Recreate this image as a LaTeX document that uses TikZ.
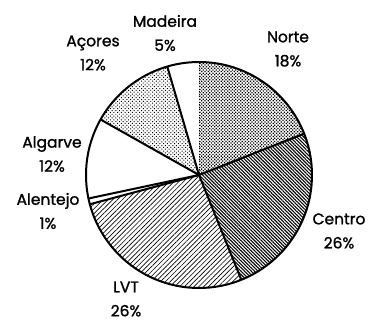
\documentclass[tikz,border=0pt]{standalone}
\usepackage{fontspec}
\setmainfont{Poppins}[FakeBold=1.3]
\usetikzlibrary{patterns.meta}
\begin{document}
\begin{tikzpicture}[x=1pt,y=1pt,
  lbl/.style={align=center,font=\fontsize{15.5}{24}\selectfont},
  edge/.style={line width=2pt,line join=round},
  thinedge/.style={line width=0.6pt,dotted}]
\useasboundingbox (0,0) rectangle (370,322);
\def\R{113}
\coordinate (c) at (199,147);
% wedges
\fill[pattern={Dots[distance=2.3pt,angle=45,radius=0.9pt]}] (c) -- ++(21.5:\R) arc[start angle=21.5,end angle=90,radius=\R] -- cycle;
\fill[pattern={Lines[angle=-45,distance=2.4pt,line width=1.1pt]}] (c) -- ++(-68:\R) arc[start angle=-68,end angle=21.5,radius=\R] -- cycle;
\fill[pattern={Lines[angle=45,distance=3.4pt,line width=0.65pt]}] (c) -- ++(-165:\R) arc[start angle=-165,end angle=-68,radius=\R] -- cycle;
\fill[pattern={Dots[distance=2.6pt,angle=45,radius=0.7pt]}] (c) -- ++(106.3:\R) arc[start angle=106.3,end angle=150.6,radius=\R] -- cycle;
% outline
\draw[edge] (c) circle[radius=\R];
\draw[edge] (c) -- ++(21.5:\R);
\draw[edge] (c) -- ++(-68:\R);
\draw[edge] (c) -- ++(-165:\R);
\draw[edge] (c) -- ++(-168:\R);
\draw[edge] (c) -- ++(150.6:\R);
\draw[edge] (c) -- ++(106.3:\R);
\draw[thinedge] (c) -- ++(90:\R);
% labels
\node[lbl] (madeira) at (165,289) {Madeira\\5\%};
\node[lbl] (norte) at (288,273) {Norte\\18\%};
\node[lbl] (acores) at (93,269) {Açores\\12\%};
\node[lbl] (algarve) at (52,168) {Algarve\\12\%};
\node[lbl] (alentejo) at (48,111) {Alentejo\\1\%};
\node[lbl] (centro) at (339,91) {Centro\\26\%};
\node[lbl] (lvt) at (126,23) {LVT\\26\%};
\end{tikzpicture}
\end{document}
